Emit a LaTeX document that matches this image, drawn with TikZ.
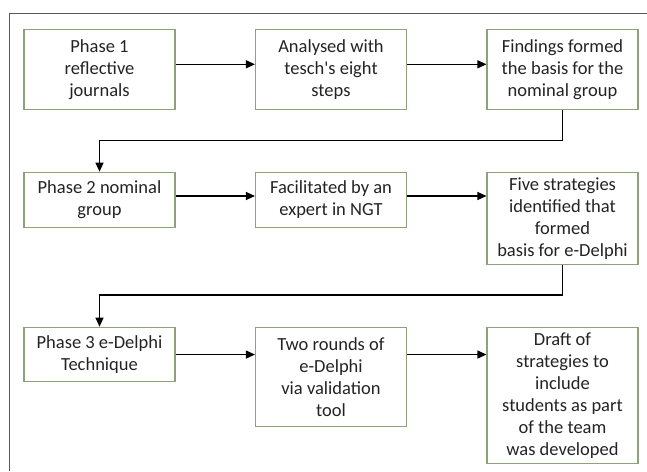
\documentclass[tikz,border=0pt]{standalone}
\usepackage{fontspec}
\setmainfont{Carlito}
\usetikzlibrary{arrows.meta}
\definecolor{boxgreen}{RGB}{140,162,120}
\definecolor{txt}{RGB}{35,35,35}
\definecolor{framegray}{RGB}{90,90,90}
\tikzset{
  stepbox/.style={draw=boxgreen, line width=1.1pt, minimum width=151pt, inner sep=0pt,
    align=center, text=txt, font=\fontsize{18.5}{22}\selectfont, anchor=north},
  arr/.style={draw=black, line width=1.2pt, -{Triangle[length=9pt,width=8pt]}}
}
\begin{document}
\begin{tikzpicture}[x=1pt,y=-1pt]
\useasboundingbox (0,0) rectangle (647,471);
% frame
\draw[framegray, line width=1.2pt] (9.5,471) -- (9.5,13.5) -- (647,13.5);
% row 1
\node[stepbox, minimum height=80pt] (b11) at (99.5,29) {Phase 1\\reflective\\journals};
\node[stepbox, minimum height=80pt] (b12) at (331,29) {Analysed with\\tesch\textquotesingle s eight\\steps};
\node[stepbox, minimum height=80pt] (b13) at (562.5,29) {Findings formed\\the basis for the\\nominal group};
% row 2
\node[stepbox, minimum height=55.3pt] (b21) at (99.5,171.7) {Phase 2 nominal\\group};
\node[stepbox, minimum height=55.3pt] (b22) at (331,171.7) {Facilitated by an\\expert in NGT};
\node[stepbox, minimum height=92pt] (b23) at (562.5,171.7) {Five strategies\\identified that\\formed\\basis for e-Delphi};
% row 3
\node[stepbox, minimum height=54.6pt] (b31) at (99.5,326.7) {Phase 3 e-Delphi\\Technique};
\node[stepbox, minimum height=99.3pt] (b32) at (331,326.7) {Two rounds of\\e-Delphi\\via validation\\tool};
\node[stepbox, minimum height=136.3pt] (b33) at (562.5,326.7) {Draft of\\strategies to\\include\\students as part\\of the team\\was developed};
% connectors row 1
\draw[arr] (b11.east |- 0,64.3) -- (b12.west |- 0,64.3);
\draw[arr] (b12.east |- 0,64.3) -- (b13.west |- 0,64.3);
\draw[arr] (b13.south) -- (b13.south |- 0,140.3) -| (b21.north);
% row 2
\draw[arr] (b21.east |- 0,196) -- (b22.west |- 0,196);
\draw[arr] (b22.east |- 0,196) -- (b23.west |- 0,196);
\draw[arr] (b23.south) -- (b23.south |- 0,295) -| (b31.north);
% row 3
\draw[arr] (b31.east) -- (b32.west |- b31.east);
\draw[arr] (b32.east |- b31.east) -- (b33.west |- b31.east);
\end{tikzpicture}
\end{document}
